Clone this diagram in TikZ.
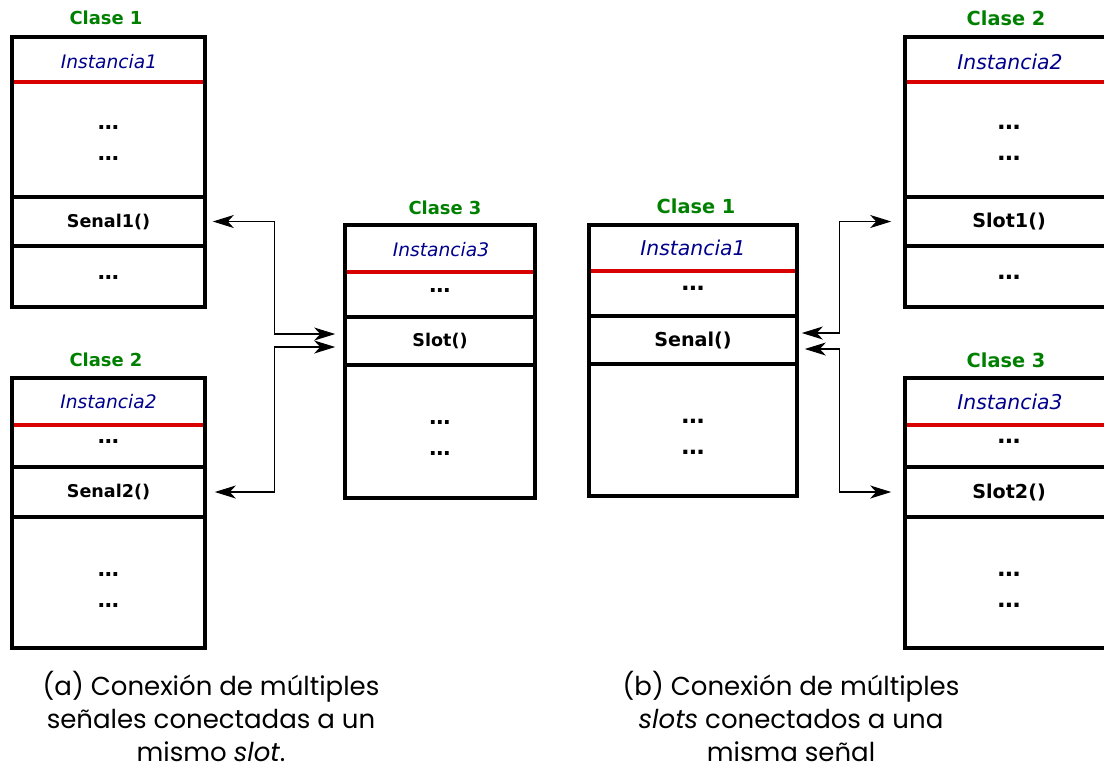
\documentclass[tikz,border=0pt]{standalone}
\usepackage{fontspec}
\setsansfont{DejaVu Sans}
\newfontfamily\capfam{Poppins}
\usetikzlibrary{arrows.meta}

\newcommand{\capfont}{\capfam\fontsize{14.8}{18.8}\selectfont}

\tikzset{
  box/.style={draw,line width=2.1pt},
  sep/.style={red!85!black,line width=2.1pt},
  title/.style={font=\sffamily\bfseries\fontsize{10.2}{12}\selectfont,text=green!50!black},
  inst/.style={font=\sffamily\itshape\fontsize{10.6}{13}\selectfont,text=blue!55!black},
  meth/.style={draw,line width=2.1pt,inner sep=0pt,font=\sffamily\bfseries\fontsize{10}{12}\selectfont},
  dots/.style={font=\sffamily\bfseries\fontsize{12}{12}\selectfont},
  caption/.style={align=center,inner sep=0pt,font=\capfont},
  link/.style={<->,line width=0.6pt},
}

\begin{document}
\begin{tikzpicture}[x=0.02cm,y=-0.02cm,>={Stealth[length=0.42cm,width=0.26cm,inset=0.12cm]}]
\useasboundingbox (0,0) rectangle (1104,769);

% (a) two signals to one slot
\node[title] (ta1) at (106,18) {Clase 1};
\draw[sep] (12,82) -- (205,82);
\node[meth,minimum width=3.86cm,minimum height=0.98cm] (sen1) at (108.5,221.5) {Senal1()};
\draw[box] (12,37) rectangle (205,307);
\node[inst] (ia1) at (109,62) {Instancia1};
\node[dots] (da1) at (108.5,127) {…};
\node[dots] (da2) at (108.5,158) {…};
\node[dots] (da3) at (108.5,277) {…};

\node[title] (ta2) at (106,360) {Clase 2};
\draw[sep] (12,425) -- (205,425);
\node[meth,minimum width=3.86cm,minimum height=1cm] (sen2) at (108.5,492) {Senal2()};
\draw[box] (12,378) rectangle (205,648);
\node[inst] (ia2) at (108.5,402) {Instancia2};
\node[dots] (da4) at (108.5,441) {…};
\node[dots] (da5) at (108.5,574) {…};
\node[dots] (da6) at (108.5,605) {…};

\node[title] (ta3) at (445,208) {Clase 3};
\draw[sep] (345,272) -- (535,272);
\node[meth,minimum width=3.8cm,minimum height=0.96cm] (slot) at (440,341) {Slot()};
\draw[box] (345,225) rectangle (535,498);
\node[inst] (ia3) at (441,250) {Instancia3};
\node[dots] (da7) at (440,290) {…};
\node[dots] (da8) at (440,422) {…};
\node[dots] (da9) at (440,453) {…};

\draw[link] ([xshift=0.12cm]sen1.east) -- ++(62,0) |- ([xshift=-0.16cm,yshift=0.14cm]slot.west);
\draw[link] ([xshift=0.16cm]sen2.east) -- ++(60,0) |- ([xshift=-0.16cm,yshift=-0.12cm]slot.west);

\node[caption] (capa) at (211,716)
  {(a) Conexión de múltiples\\señales conectadas a un\\mismo \textit{slot}.};

% (b) one signal to two slots, drawn a little larger
\begin{scope}[title/.append style={font=\sffamily\bfseries\fontsize{11}{13}\selectfont},
              inst/.append style={font=\sffamily\itshape\fontsize{11.6}{14}\selectfont},
              meth/.append style={font=\sffamily\bfseries\fontsize{10.9}{13}\selectfont},
              dots/.append style={font=\sffamily\bfseries\fontsize{13}{13}\selectfont}]
\node[title] (tb1) at (696,206) {Clase 1};
\draw[sep] (589,271) -- (797,271);
\node[meth,minimum width=4.16cm,minimum height=0.96cm] (sen) at (693,340) {Senal()};
\draw[box] (589,225) rectangle (797,496);
\node[inst] (ib1) at (693,248) {Instancia1};
\node[dots] (db1) at (693,288) {…};
\node[dots] (db2) at (693,421) {…};
\node[dots] (db3) at (693,452) {…};

\node[title] (tb2) at (1006,18) {Clase 2};
\draw[sep] (905,82) -- (1113,82);
\node[meth,minimum width=4.16cm,minimum height=0.98cm] (slot1) at (1009,221.5) {Slot1()};
\draw[box] (905,37) rectangle (1113,307);
\node[inst] (ib2) at (1010,62) {Instancia2};
\node[dots] (db4) at (1009,127) {…};
\node[dots] (db5) at (1009,158) {…};
\node[dots] (db6) at (1009,277) {…};

\node[title] (tb3) at (1006,360) {Clase 3};
\draw[sep] (905,425) -- (1113,425);
\node[meth,minimum width=4.16cm,minimum height=1cm] (slot2) at (1009,492) {Slot2()};
\draw[box] (905,378) rectangle (1113,648);
\node[inst] (ib3) at (1010,402) {Instancia3};
\node[dots] (db7) at (1009,441) {…};
\node[dots] (db8) at (1009,574) {…};
\node[dots] (db9) at (1009,605) {…};
\end{scope}

\draw[link] ([xshift=0.06cm,yshift=0.14cm]sen.east) -| ([xshift=-1.28cm]slot1.west) -- ([xshift=-0.24cm]slot1.west);
\draw[link] ([xshift=0.12cm,yshift=-0.18cm]sen.east) -| ([xshift=-1.28cm]slot2.west) -- ([xshift=-0.24cm]slot2.west);

\node[caption] (capb) at (791,716)
  {(b) Conexión de múltiples\\\textit{slots} conectados a una\\misma señal};
\end{tikzpicture}
\end{document}
